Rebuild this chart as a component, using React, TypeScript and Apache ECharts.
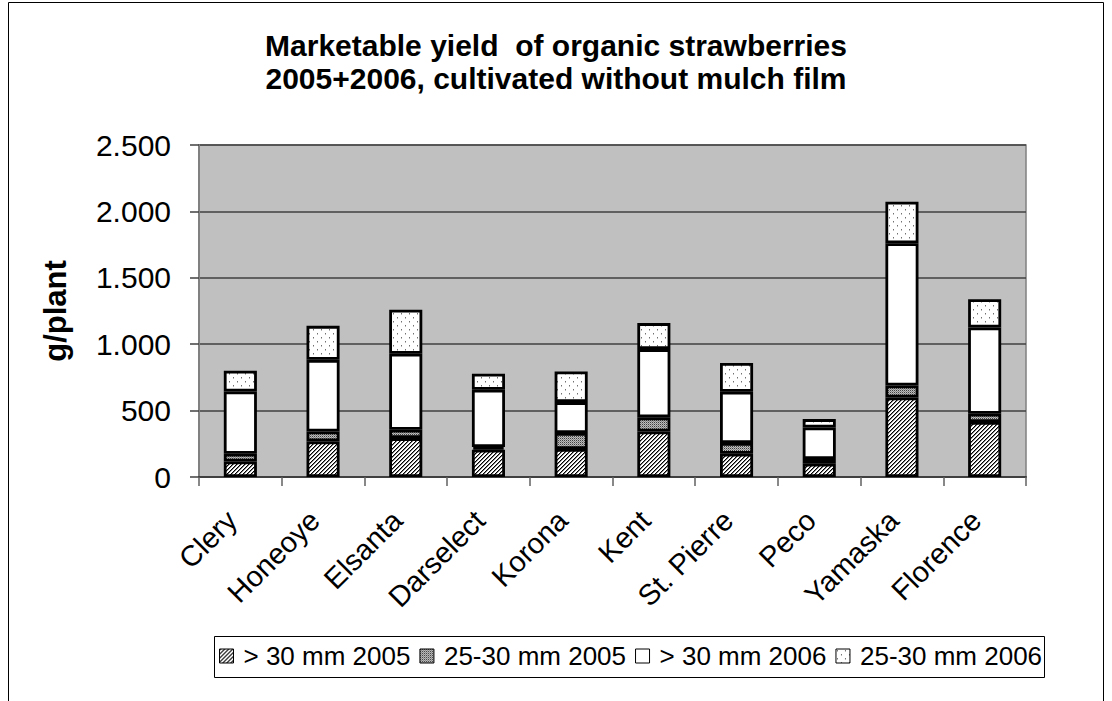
import React, { useEffect, useRef } from "react";
import * as echarts from "echarts";

const categories = ["Clery", "Honeoye", "Elsanta", "Darselect", "Korona", "Kent", "St. Pierre", "Peco", "Yamaska", "Florence"];
const seriesNames = ["> 30 mm 2005", "25-30 mm 2005", "> 30 mm 2006", "25-30 mm 2006"];
const large2005 = [117, 268, 293, 205, 211, 343, 175, 100, 599, 414];
const medium2005 = [58, 75, 63, 20, 120, 106, 81, 35, 90, 62];
const large2006 = [469, 539, 572, 432, 233, 514, 386, 238, 1071, 650];
const medium2006 = [156, 256, 331, 120, 231, 196, 216, 63, 313, 213];
const yTicks = [0, 500, 1000, 1500, 2000, 2500];

const FONT = "'Liberation Sans', Arial, sans-serif";

function makeTile(size: number, paint: (x: number, y: number) => string): HTMLCanvasElement {
  const c = document.createElement("canvas");
  c.width = size;
  c.height = size;
  const ctx = c.getContext("2d")!;
  for (let y = 0; y < size; y++) {
    for (let x = 0; x < size; x++) {
      ctx.fillStyle = paint(x, y);
      ctx.fillRect(x, y, 1, 1);
    }
  }
  return c;
}

function fmt(v: number): string {
  if (v < 1000) return String(v);
  const th = Math.floor(v / 1000);
  const rest = String(v % 1000).padStart(3, "0");
  return th + "." + rest;
}

export default function App() {
  const ref = useRef<HTMLDivElement>(null);
  useEffect(() => {
    if (!ref.current) return;
    const chart = echarts.init(ref.current, undefined, { renderer: "svg" });

    const hatch = makeTile(4, (x, y) => {
      const k = (x + y) % 4;
      return k === 0 ? "#000000" : k === 1 ? "#808080" : "#ffffff";
    });
    const cross = makeTile(4, (x, y) => {
      const k = (x + y) % 2;
      if (x % 2 === 0 && y % 2 === 0) return "#404040";
      return k === 0 ? "#8a8a8a" : "#bdbdbd";
    });
    const dots = makeTile(8, (x, y) => {
      if ((x === 1 && y === 1) || (x === 5 && y === 5)) return "#707070";
      if ((x === 1 && y === 2) || (x === 5 && y === 6)) return "#b8b8b8";
      return "#ffffff";
    });

    const fills: any[] = [
      { image: hatch, repeat: "repeat" },
      { image: cross, repeat: "repeat" },
      "#ffffff",
      { image: dots, repeat: "repeat" },
    ];
    const dataSets = [large2005, medium2005, large2006, medium2006];

    chart.setOption({
      animation: false,
      title: {
        text: "Marketable yield  of organic strawberries\n2005+2006, cultivated without mulch film",
        left: "center",
        top: 24,
        textStyle: { fontFamily: FONT, fontSize: 30, fontWeight: "bold", color: "#000", lineHeight: 33 },
      },
      grid: {
        left: 199,
        right: 86,
        top: 145,
        bottom: 224,
        show: true,
        backgroundColor: "#c0c0c0",
        borderColor: "#808080",
        borderWidth: 1.5,
      },
      legend: {
        left: 219,
        top: 643,
        padding: 0,
        itemWidth: 14,
        itemHeight: 14,
        itemGap: 9,
        icon: "rect",
        selectedMode: false,
        itemStyle: { borderColor: "#000", borderWidth: 1 },
        textStyle: { fontFamily: FONT, fontSize: 26, color: "#000", padding: [0, 0, 0, 5] },
        data: seriesNames,
      },
      xAxis: {
        type: "category",
        data: categories,
        boundaryGap: true,
        axisLine: { lineStyle: { color: "#404040", width: 2 } },
        axisTick: { show: true, length: 9, lineStyle: { color: "#606060", width: 1.5 } },
        axisLabel: {
          interval: 0,
          rotate: 45,
          margin: 30,
          padding: [0, 12, 0, 0],
          fontFamily: FONT,
          fontSize: 29,
          color: "#000",
        },
      },
      yAxis: {
        type: "value",
        min: 0,
        max: 2500,
        interval: 500,
        name: "g/plant",
        nameLocation: "middle",
        nameGap: 128,
        nameMoveOverlap: false,
        nameRotate: 90,
        nameTextStyle: { fontFamily: FONT, fontSize: 31, fontWeight: "bold", color: "#000" },
        axisLine: { show: true, lineStyle: { color: "#808080", width: 2 } },
        axisTick: { show: true, length: 9, lineStyle: { color: "#404040", width: 1.5 } },
        splitLine: { show: true, lineStyle: { color: "#404040", width: 1.5 } },
        axisLabel: {
          margin: 28,
          fontFamily: FONT,
          fontSize: 30,
          color: "#000",
          formatter: (v: number) => (yTicks.includes(v) ? fmt(v) : ""),
        },
      },
      graphic: [
        {
          type: "rect",
          shape: { x: 8.5, y: 2.5, width: 1095, height: 730 },
          style: { fill: "none", stroke: "#000", lineWidth: 1 },
          silent: true,
          z: -10,
        },
        {
          type: "rect",
          shape: { x: 214.5, y: 636.5, width: 830, height: 41 },
          style: { fill: "#fff", stroke: "#000", lineWidth: 1 },
          silent: true,
          z: -5,
        },
      ],
      series: seriesNames.map((name, i) => ({
        name,
        type: "bar",
        stack: "total",
        barWidth: "40%",
        data: dataSets[i],
        itemStyle: { color: fills[i], borderColor: "#000", borderWidth: 2.8 },
        emphasis: { disabled: true },
      })),
    });
    return () => chart.dispose();
  }, []);
  return <div ref={ref} style={{ position: "fixed", left: 0, top: 0, width: 1112, height: 701, background: "#fff" }} />;
}
